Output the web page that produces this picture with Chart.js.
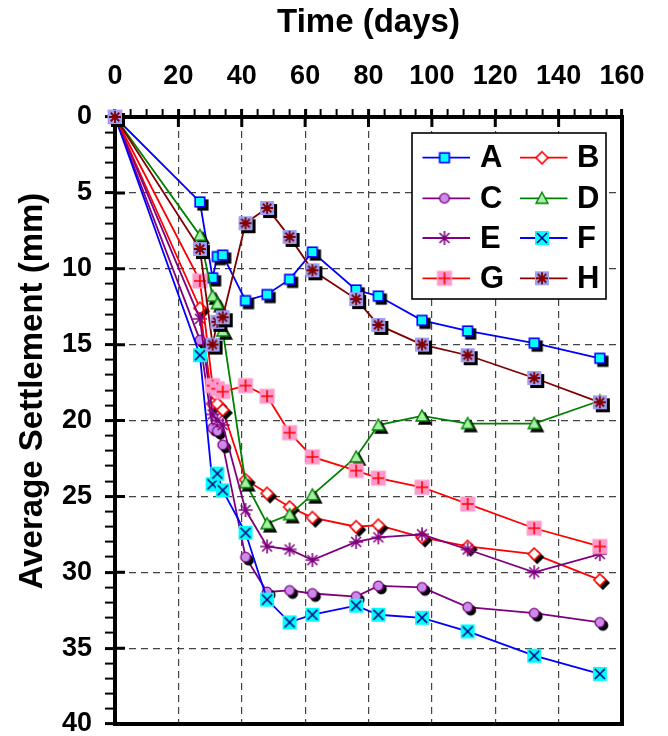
<!DOCTYPE html>
<html>
<head>
<meta charset="utf-8">
<script src="https://cdn.jsdelivr.net/npm/chart.js@4.4.1/dist/chart.umd.min.js"></script>
<style>
  html, body { margin: 0; padding: 0; background: #fff; }
  #wrap { width: 668px; height: 736px; }
</style>
</head>
<body>
<div id="wrap"><canvas id="settle" width="668" height="736"></canvas></div>
<script>
// Datos (días y asentamiento medio en mm)
const days = [0, 26.8, 30.8, 32.3, 34.0, 41.2, 48.0, 55.1, 62.3, 76.1, 83.1, 96.9, 111.3, 132.3, 153.0];
const seriesNames = ['A', 'B', 'C', 'D', 'E', 'F', 'G', 'H'];
const valA = [0, 5.6, 10.6, 9.2, 9.1, 12.1, 11.7, 10.7, 8.9, 11.4, 11.8, 13.4, 14.1, 14.9, 15.9];
const valB = [0, 12.6, 18.9, 18.9, 19.3, 23.9, 24.8, 25.7, 26.4, 27.0, 26.9, 27.7, 28.3, 28.8, 30.5];
const valC = [0, 14.7, 20.5, 20.7, 21.6, 29.0, 31.3, 31.2, 31.4, 31.6, 30.9, 31.0, 32.3, 32.7, 33.3];
const valD = [0, 7.8, 11.8, 12.3, 14.1, 24.1, 26.8, 26.2, 24.9, 22.4, 20.3, 19.7, 20.2, 20.2, 18.7];
const valE = [0, 13.3, 19.6, 20.0, 20.3, 25.9, 28.3, 28.5, 29.2, 28.0, 27.7, 27.5, 28.5, 30.0, 28.8];
const valF = [0, 15.7, 24.2, 23.5, 24.6, 27.4, 31.8, 33.3, 32.8, 32.2, 32.8, 33.0, 33.9, 35.5, 36.7];
const valG = [0, 10.8, 17.7, 17.9, 18.1, 17.7, 18.4, 20.8, 22.4, 23.3, 23.8, 24.4, 25.5, 27.1, 28.3];
const valH = [0, 8.7, 15.0, 13.5, 13.2, 7.0, 6.0, 7.9, 10.1, 12.0, 13.7, 15.0, 15.7, 17.2, 18.8];
const xTicks = [0, 20, 40, 60, 80, 100, 120, 140, 160];
const yTicks = [0, 5, 10, 15, 20, 25, 30, 35, 40];

const allValues = [valA, valB, valC, valD, valE, valF, valG, valH];
const lineColors = ['#0000ff', '#ff0000', '#800080', '#008000', '#800080', '#0000ff', '#ff0000', '#800000'];
const withShadow = [true, true, true, true, false, false, false, true];

const FONT = '"Liberation Sans", Arial, sans-serif';

// Dibuja la forma de cada marcador en un canvas pequeño
function drawShape(g, kind, cx, cy, black) {
    g.lineJoin = 'miter';
    const star = (r, col, w) => {
        g.strokeStyle = black ? '#000' : col;
        g.lineWidth = w;
        g.beginPath();
        for (let k = 0; k < 4; k++) {
            const a = k * Math.PI / 4;
            g.moveTo(cx - r * Math.cos(a), cy - r * Math.sin(a));
            g.lineTo(cx + r * Math.cos(a), cy + r * Math.sin(a));
        }
        g.stroke();
    };
    if (kind === 'A') {
        g.fillStyle = black ? '#000' : '#00ffff';
        g.strokeStyle = black ? '#000' : '#0000ff';
        g.lineWidth = 1.6;
        g.fillRect(cx - 4.8, cy - 4.8, 9.6, 9.6);
        g.strokeRect(cx - 4.8, cy - 4.8, 9.6, 9.6);
    } else if (kind === 'B') {
        g.fillStyle = black ? '#000' : '#fff';
        g.strokeStyle = black ? '#000' : '#ff0000';
        g.lineWidth = 1.6;
        g.beginPath();
        g.moveTo(cx, cy - 6); g.lineTo(cx + 6, cy); g.lineTo(cx, cy + 6); g.lineTo(cx - 6, cy);
        g.closePath(); g.fill(); g.stroke();
    } else if (kind === 'C') {
        g.fillStyle = black ? '#000' : '#c98ce8';
        g.strokeStyle = black ? '#000' : '#800080';
        g.lineWidth = 1.3;
        g.beginPath(); g.arc(cx, cy, 4.8, 0, Math.PI * 2); g.fill(); g.stroke();
    } else if (kind === 'D') {
        g.fillStyle = black ? '#000' : '#a6f0a6';
        g.strokeStyle = black ? '#000' : '#008000';
        g.lineWidth = 1.4;
        g.beginPath();
        g.moveTo(cx, cy - 6); g.lineTo(cx + 6, cy + 5); g.lineTo(cx - 6, cy + 5);
        g.closePath(); g.fill(); g.stroke();
    } else if (kind === 'E') {
        star(7, '#800080', 1.6);
    } else if (kind === 'F') {
        g.fillStyle = black ? '#000' : '#00ffff';
        g.fillRect(cx - 7, cy - 7, 14, 14);
        if (!black) {
            g.strokeStyle = '#000080'; g.lineWidth = 1.6;
            g.beginPath();
            g.moveTo(cx - 5, cy - 5); g.lineTo(cx + 5, cy + 5);
            g.moveTo(cx + 5, cy - 5); g.lineTo(cx - 5, cy + 5);
            g.stroke();
        }
    } else if (kind === 'G') {
        g.fillStyle = black ? '#000' : '#ff99cc';
        g.fillRect(cx - 7.5, cy - 7.5, 15, 15);
        if (!black) {
            g.strokeStyle = '#ff0000'; g.lineWidth = 1.6;
            g.beginPath();
            g.moveTo(cx - 6, cy); g.lineTo(cx + 6, cy);
            g.moveTo(cx, cy - 6); g.lineTo(cx, cy + 6);
            g.stroke();
        }
    } else if (kind === 'H') {
        g.fillStyle = black ? '#000' : '#9f9ff5';
        g.fillRect(cx - 7, cy - 7, 14, 14);
        if (!black) star(6, '#800000', 1.8);
    }
}

function makeMarker(kind, shadow) {
    const size = 30;
    const c = document.createElement('canvas');
    c.width = size; c.height = size;
    const g = c.getContext('2d');
    const cx = size / 2, cy = size / 2;
    if (shadow) drawShape(g, kind, cx + 3, cy + 3, true);
    drawShape(g, kind, cx, cy, false);
    return c;
}

const plotMarkers = seriesNames.map((n, i) => makeMarker(n, withShadow[i]));
const legendMarkers = seriesNames.map(n => makeMarker(n, false));

const datasets = seriesNames.map((name, i) => ({
    label: name,
    data: days.map((d, j) => ({ x: d, y: allValues[i][j] })),
    borderColor: lineColors[i],
    backgroundColor: lineColors[i],
    borderWidth: 1.8,
    pointStyle: plotMarkers[i],
    pointRadius: 7,
    pointHoverRadius: 7,
    tension: 0,
    clip: false,
    order: seriesNames.length - i
}));

// Marco derecho e inferior, y la parte interior de las marcas principales
const framePlugin = {
    id: 'frame',
    beforeDatasetsDraw(chart) {
        const { ctx, chartArea: a, scales } = chart;
        ctx.save();
        ctx.strokeStyle = '#000';
        ctx.lineWidth = 4;
        ctx.beginPath();
        ctx.moveTo(a.right, a.top - 2);
        ctx.lineTo(a.right, a.bottom);
        ctx.lineTo(a.left - 2, a.bottom);
        ctx.stroke();
        ctx.lineWidth = 3;
        ctx.beginPath();
        xTicks.slice(1, -1).forEach(v => {
            const px = scales.x.getPixelForValue(v);
            ctx.moveTo(px, a.top); ctx.lineTo(px, a.top + 10);
        });
        yTicks.slice(1, -1).forEach(v => {
            const py = scales.y.getPixelForValue(v);
            ctx.moveTo(a.left, py); ctx.lineTo(a.left + 10, py);
        });
        ctx.stroke();
        ctx.restore();
    }
};

// Leyenda en dos columnas dentro del área
const legendPlugin = {
    id: 'boxLegend',
    afterDatasetsDraw(chart) {
        const ctx = chart.ctx;
        const box = { x: 412, y: 133, w: 194, h: 166 };
        const rows = [157.7, 198.3, 238, 278.3];
        ctx.save();
        ctx.fillStyle = '#fff';
        ctx.fillRect(box.x, box.y, box.w, box.h);
        ctx.strokeStyle = '#000';
        ctx.lineWidth = 1.6;
        ctx.strokeRect(box.x, box.y, box.w, box.h);
        seriesNames.forEach((name, i) => {
            const col = i % 2;
            const y = rows[Math.floor(i / 2)];
            const x1 = col ? 520 : 422.5;
            ctx.strokeStyle = lineColors[i];
            ctx.lineWidth = 1.8;
            ctx.beginPath();
            ctx.moveTo(x1, y); ctx.lineTo(x1 + 47.5, y);
            ctx.stroke();
            const m = legendMarkers[i];
            ctx.drawImage(m, x1 + 22 - m.width / 2, y - m.height / 2);
            ctx.fillStyle = '#000';
            ctx.font = 'bold 31px ' + FONT;
            ctx.textAlign = 'left';
            ctx.textBaseline = 'middle';
            ctx.fillText(name, col ? 577 : 480, y + 1);
        });
        ctx.restore();
    },
    afterDraw(chart) {
        const ctx = chart.ctx;
        ctx.save();
        ctx.translate(33, 391);
        ctx.rotate(-Math.PI / 2);
        ctx.fillStyle = '#000';
        ctx.font = 'bold 33px ' + FONT;
        ctx.textAlign = 'center';
        ctx.textBaseline = 'middle';
        ctx.fillText('Average Settlement (mm)', 0, 0);
        ctx.restore();
    }
};

const tickFont = { family: FONT, weight: 'bold', size: 27 };

new Chart(document.getElementById('settle').getContext('2d'), {
    type: 'line',
    data: { datasets: datasets },
    options: {
        responsive: false,
        animation: false,
        layout: { padding: { left: 0, top: 0, right: 46, bottom: 12 } },
        plugins: { legend: { display: false }, tooltip: { enabled: false } },
        scales: {
            x: {
                type: 'linear',
                position: 'top',
                min: xTicks[0],
                max: xTicks[xTicks.length - 1],
                afterFit(s) { s.height = 117; s.paddingLeft = 0; s.paddingRight = 0; },
                ticks: {
                    stepSize: 5,
                    autoSkip: false,
                    maxRotation: 0,
                    padding: 16,
                    color: '#000',
                    font: tickFont,
                    callback: v => xTicks.includes(v) ? String(v) : ''
                },
                grid: {
                    color: c => (c.tick && xTicks.includes(c.tick.value) && c.tick.value > 0 && c.tick.value < 160) ? '#444' : 'rgba(0,0,0,0)',
                    lineWidth: 1.2,
                    tickColor: '#000',
                    tickLength: 8,
                    tickWidth: c => (c.tick && xTicks.includes(c.tick.value)) ? 3 : 2
                },
                border: { display: true, color: '#000', width: 4, dash: [7, 5] },
                title: {
                    display: true,
                    text: 'Time (days)',
                    color: '#000',
                    font: { family: FONT, weight: 'bold', size: 33 },
                    padding: { top: 3, bottom: 0 }
                }
            },
            y: {
                type: 'linear',
                reverse: true,
                min: yTicks[0],
                max: yTicks[yTicks.length - 1],
                afterFit(s) { s.width = 115; s.paddingTop = 0; s.paddingBottom = 0; },
                ticks: {
                    stepSize: 1,
                    autoSkip: false,
                    padding: 13,
                    color: '#000',
                    font: tickFont,
                    callback: v => yTicks.includes(v) ? String(v) : ''
                },
                grid: {
                    color: c => (c.tick && yTicks.includes(c.tick.value) && c.tick.value > 0 && c.tick.value < 40) ? '#444' : 'rgba(0,0,0,0)',
                    lineWidth: 1.2,
                    tickColor: '#000',
                    tickLength: 10,
                    tickWidth: c => (c.tick && yTicks.includes(c.tick.value)) ? 3 : 2
                },
                border: { display: true, color: '#000', width: 4, dash: [7, 5] }
            }
        }
    },
    plugins: [framePlugin, legendPlugin]
});
</script>
</body>
</html>
